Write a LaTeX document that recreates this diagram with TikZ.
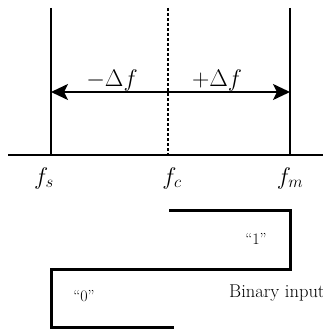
\RequirePackage{fix-cm}
\documentclass[tikz,border=0pt]{standalone}
\usepackage{fontspec}
\usetikzlibrary{arrows.meta}
\tikzset{
  thinline/.style={line width=2pt},
  waveline/.style={line width=3pt, line cap=rect},
  bigmath/.style={inner sep=0pt, font=\fontsize{24}{28}\selectfont},
  quotelabel/.style={inner sep=0pt, font=\fontsize{16}{19}\selectfont},
  plainlabel/.style={inner sep=0pt, anchor=base west, font=\fontsize{18.5}{22}\selectfont},
  bigtip/.style={-{Stealth[length=17pt,width=16pt,inset=4pt]}}
}
\begin{document}
\begin{tikzpicture}[x=1pt,y=-1pt]
\useasboundingbox (0,0) rectangle (323,329);
\clip (0,0) rectangle (323,329);
% key coordinates
\coordinate (stop) at (51,8);
\coordinate (sbot) at (51,155);
\coordinate (ctop) at (168,8);
\coordinate (cbot) at (168,155);
\coordinate (mtop) at (290,8);
\coordinate (mbot) at (290,155);
\coordinate (axl) at (8,155);
\coordinate (axr) at (323,155);
\coordinate (arl) at (51,92);
\coordinate (arm) at (168,92);
\coordinate (arr) at (290,92);
% vertical lines and axis
\draw[thinline] (stop) -- (sbot);
\draw[thinline] (mtop) -- (mbot);
\draw[line width=2pt, dash pattern=on 3pt off 2pt] (ctop) -- (cbot);
\draw[thinline] (axl) -- (axr);
% arrows
\draw[thinline, bigtip] (arm) -- (arl);
\draw[thinline, bigtip] (arm) -- (arr);
% labels
\node[bigmath] (minus) at (112,80) {$-\Delta f$};
\node[bigmath] (plus) at (217,80) {$+\Delta f$};
\node[bigmath, anchor=base] (fs) at (44,184) {$f_s$};
\node[bigmath, anchor=base] (fc) at (172,184) {$f_c$};
\node[bigmath, anchor=base] (fm) at (290,184) {$f_m$};
% binary input waveform
\coordinate (w1) at (170,210.5);
\coordinate (w2) at (290,210.5);
\coordinate (w3) at (290,269);
\coordinate (w4) at (51,269);
\coordinate (w5) at (51,327);
\coordinate (w6) at (172,327);
\draw[waveline, line join=miter] (w1) -- (w2) -- (w3) -- (w4) -- (w5) -- (w6);
\node[quotelabel] (one) at (256,239) {``1''};
\node[quotelabel] (zero) at (84,296) {``0''};
\node[plainlabel] (bin) at (229,297) {Binary input};
\end{tikzpicture}
\end{document}
